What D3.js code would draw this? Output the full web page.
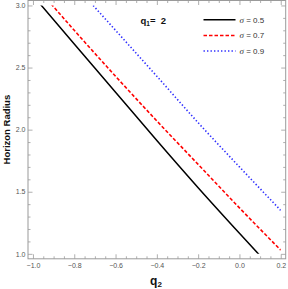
<!DOCTYPE html>
<html>
<head>
<meta charset="utf-8">
<script src="https://cdn.jsdelivr.net/npm/d3@7"></script>
<style>
  html, body { margin: 0; padding: 0; background: #fff; }
  svg { display: block; }
</style>
</head>
<body>
<svg id="chart" width="288" height="289"></svg>
<script>
// ---- data ----
const qGrid = [-1.0, -0.8, -0.6, -0.4, -0.2, 0.0, 0.2];
const r05 = [3.08, 2.69, 2.302, 1.912, 1.532, 1.165, 0.805];
const r07 = [3.18, 2.80, 2.43, 2.07, 1.72, 1.37, 1.03];
const r09 = [3.55, 3.17, 2.80, 2.43, 2.056, 1.70, 1.35];
const seriesLabels = ["0.5", "0.7", "0.9"];
const qTicks = [-1.0, -0.8, -0.6, -0.4, -0.2, 0.0, 0.2];
const rTicks = [1.0, 1.5, 2.0, 2.5, 3.0];
const q1Value = "2";

// ---- layout ----
const svg = d3.select("#chart");
const L = 28, R = 285.7, T = 0.5, B = 258.8;
const x = d3.scaleLinear().domain([-1.024, 0.224]).range([L, R]);
const y = d3.scaleLinear().domain([0.96, 3.04]).range([B, T]);

const frameColor = "#9a9a9a";
const labelColor = "#555";
const fontSans = "'Liberation Sans', Arial, sans-serif";

// clip to plot range
svg.append("defs").append("clipPath").attr("id", "clip")
  .append("rect")
  .attr("x", x(-1.0)).attr("y", y(3.0))
  .attr("width", x(0.2) - x(-1.0)).attr("height", y(1.0) - y(3.0));

const styles = [
  { data: r05, color: "#000000", dash: null, width: 1.5 },
  { data: r07, color: "#ff0000", dash: "3.5,2", width: 1.6 },
  { data: r09, color: "#2f2fff", dash: "1.4,2.1", width: 1.6 }
];

const line = d3.line()
  .x(d => x(d[0]))
  .y(d => y(d[1]))
  .curve(d3.curveMonotoneX);

const plotG = svg.append("g").attr("clip-path", "url(#clip)");
styles.forEach(s => {
  const pts = qGrid.map((q, i) => [q, s.data[i]]);
  plotG.append("path")
    .attr("d", line(pts))
    .attr("fill", "none")
    .attr("stroke", s.color)
    .attr("stroke-width", s.width)
    .attr("stroke-dasharray", s.dash);
});

// ---- axes / frame ----
const qMinor = d3.range(-1.0, 0.2001, 0.05).filter(v => !qTicks.some(t => Math.abs(t - v) < 1e-6));
const rMinor = d3.range(1.0, 3.0001, 0.1).filter(v => !rTicks.some(t => Math.abs(t - v) < 1e-6));

function styleAxis(g) {
  g.select(".domain").remove();
  g.selectAll(".tick line").attr("stroke", frameColor).attr("stroke-width", 0.8);
  g.selectAll("text").attr("fill", labelColor).attr("font-family", fontSans).attr("font-size", 7);
}

const fmt = d3.format(".1f");
// bottom
svg.append("g").attr("transform", `translate(0,${B})`)
  .call(d3.axisBottom(x).tickValues(qTicks).tickSize(-4.5).tickPadding(4).tickFormat(fmt)).call(styleAxis);
svg.append("g").attr("transform", `translate(0,${B})`)
  .call(d3.axisBottom(x).tickValues(qMinor).tickSize(-2.5).tickFormat("")).call(styleAxis);
// top
svg.append("g").attr("transform", `translate(0,${T})`)
  .call(d3.axisTop(x).tickValues(qTicks).tickSize(-4.5).tickFormat("")).call(styleAxis);
svg.append("g").attr("transform", `translate(0,${T})`)
  .call(d3.axisTop(x).tickValues(qMinor).tickSize(-2.5).tickFormat("")).call(styleAxis);
// left
svg.append("g").attr("transform", `translate(${L},0)`)
  .call(d3.axisLeft(y).tickValues(rTicks).tickSize(-4.5).tickPadding(2.5).tickFormat(fmt)).call(styleAxis);
svg.append("g").attr("transform", `translate(${L},0)`)
  .call(d3.axisLeft(y).tickValues(rMinor).tickSize(-2.5).tickFormat("")).call(styleAxis);
// right
svg.append("g").attr("transform", `translate(${R},0)`)
  .call(d3.axisRight(y).tickValues(rTicks).tickSize(-4.5).tickFormat("")).call(styleAxis);
svg.append("g").attr("transform", `translate(${R},0)`)
  .call(d3.axisRight(y).tickValues(rMinor).tickSize(-2.5).tickFormat("")).call(styleAxis);

svg.append("rect")
  .attr("x", L).attr("y", T).attr("width", R - L).attr("height", B - T)
  .attr("fill", "none").attr("stroke", frameColor).attr("stroke-width", 1);

// ---- axis titles ----
svg.append("text")
  .attr("transform", `translate(9.5,${(T + B) / 2}) rotate(-90)`)
  .attr("text-anchor", "middle")
  .attr("font-family", fontSans).attr("font-weight", "bold").attr("font-size", 9.5)
  .attr("fill", "#111")
  .text("Horizon Radius");

const xt = svg.append("text")
  .attr("x", 156).attr("y", 284.5)
  .attr("text-anchor", "middle")
  .attr("font-family", fontSans).attr("font-weight", "bold").attr("font-size", 12)
  .attr("fill", "#111");
xt.append("tspan").text("q");
xt.append("tspan").attr("font-size", 8).attr("dy", 2.5).text("2");

// ---- annotation q1 = 2 ----
const ann = svg.append("text")
  .attr("x", 140.5).attr("y", 23.5)
  .attr("font-family", fontSans).attr("font-weight", "bold").attr("font-size", 9.5)
  .attr("fill", "#111");
ann.append("tspan").text("q");
ann.append("tspan").attr("font-size", 6.5).attr("dy", 2).text("1");
ann.append("tspan").attr("dy", -2).text("=\u00a0\u00a0" + q1Value);

// ---- legend ----
const legY = [19.7, 35.5, 51];
styles.forEach((s, i) => {
  svg.append("line")
    .attr("x1", 203.5).attr("x2", 235.5)
    .attr("y1", legY[i]).attr("y2", legY[i])
    .attr("stroke", s.color).attr("stroke-width", s.width)
    .attr("stroke-dasharray", s.dash);
  const t = svg.append("text")
    .attr("x", 239.5).attr("y", legY[i] + 2.8)
    .attr("font-family", fontSans).attr("font-size", 8)
    .attr("fill", "#333");
  t.append("tspan").attr("font-family", "'Liberation Serif', 'Times New Roman', serif")
    .attr("font-style", "italic").attr("font-size", 9).text("σ");
  t.append("tspan").text(" = " + seriesLabels[i]);
});
</script>
</body>
</html>
